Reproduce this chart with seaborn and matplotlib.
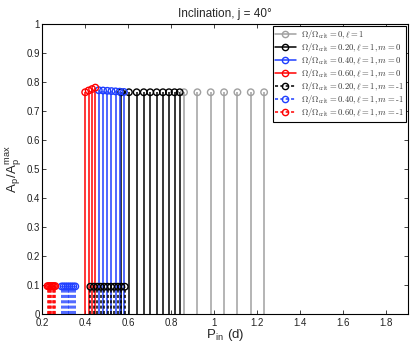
import matplotlib
matplotlib.use("Agg")
import matplotlib.pyplot as plt
import seaborn as sns
import numpy as np
import pandas as pd
from matplotlib.lines import Line2D
from matplotlib.legend_handler import HandlerLine2D

# periods (d) and normalised amplitudes
P_om0 = [0.860, 0.922, 0.984, 1.046, 1.108, 1.170, 1.232]
A_om0 = [0.765, 0.765, 0.765, 0.765, 0.765, 0.765, 0.765]

P_om20_m0 = [0.568, 0.604, 0.640, 0.673, 0.703, 0.733, 0.762, 0.790, 0.816, 0.840]
A_om20_m0 = [0.765, 0.765, 0.765, 0.765, 0.765, 0.765, 0.765, 0.765, 0.765, 0.765]

P_om40_m0 = [0.464, 0.484, 0.504, 0.523, 0.542, 0.561, 0.581]
A_om40_m0 = [0.772, 0.771, 0.770, 0.769, 0.768, 0.767, 0.766]

P_om60_m0 = [0.401, 0.417, 0.433, 0.448]
A_om60_m0 = [0.765, 0.771, 0.776, 0.781]

P_om20_m1 = [0.425, 0.441, 0.457, 0.473, 0.489, 0.505, 0.521, 0.537, 0.553, 0.569, 0.585]
A_om20_m1 = [0.094, 0.094, 0.094, 0.094, 0.094, 0.094, 0.094, 0.094, 0.094, 0.094, 0.094]

P_om40_m1 = [0.292, 0.301, 0.310, 0.319, 0.328, 0.337, 0.346, 0.355]
A_om40_m1 = [0.095, 0.095, 0.095, 0.095, 0.095, 0.095, 0.095, 0.095]

P_om60_m1 = [0.226, 0.232, 0.238, 0.244, 0.250, 0.256, 0.262]
A_om60_m1 = [0.096, 0.096, 0.096, 0.096, 0.096, 0.096, 0.096]

labels = [r"$\Omega/\Omega_{\rm crit} = 0, \ell = 1$",
          r"$\Omega/\Omega_{\rm crit} = 0.20, \ell = 1, m = 0$",
          r"$\Omega/\Omega_{\rm crit} = 0.40, \ell = 1, m = 0$",
          r"$\Omega/\Omega_{\rm crit} = 0.60, \ell = 1, m = 0$",
          r"$\Omega/\Omega_{\rm crit} = 0.20, \ell = 1, m = \text{-}1$",
          r"$\Omega/\Omega_{\rm crit} = 0.40, \ell = 1, m = \text{-}1$",
          r"$\Omega/\Omega_{\rm crit} = 0.60, \ell = 1, m = \text{-}1$"]

series = [
    (P_om0, A_om0, "#a0a0a0", "-"),
    (P_om20_m0, A_om20_m0, "black", "-"),
    (P_om40_m0, A_om40_m0, "#1f3fff", "-"),
    (P_om60_m0, A_om60_m0, "red", "-"),
    (P_om20_m1, A_om20_m1, "black", (0, (2, 1.5))),
    (P_om40_m1, A_om40_m1, "#1f3fff", (0, (2, 1.5))),
    (P_om60_m1, A_om60_m1, "red", (0, (2, 1.5))),
]

sns.set_style("ticks")
plt.rcParams['font.family'] = ['Liberation Sans', 'DejaVu Sans']
plt.rcParams['mathtext.fontset'] = 'cm'

fig = plt.figure(figsize=(4.15, 3.45), dpi=100)
ax = fig.add_axes([0.101, 0.090, 0.882, 0.840])

handles = []
for (P, A, col, ls), lab in zip(series, labels):
    df = pd.DataFrame({"P": P, "A": A})
    ax.vlines(df["P"], 0, df["A"], colors=col, linestyles=ls, lw=1.1, zorder=2)
    sns.scatterplot(data=df, x="P", y="A", ax=ax, marker="o", s=22,
                    facecolors="none", edgecolor=col, linewidth=1.0,
                    zorder=3, legend=False)
    handles.append(Line2D([0, 1], [0, 0], color=col, ls=ls, lw=1.1,
                          marker="o", mfc="none", mec=col, ms=4.5, mew=1.0))


class StemHandler(HandlerLine2D):
    def get_xdata(self, legend, xdescent, ydescent, width, height, fontsize):
        xdata = np.array([-xdescent, -xdescent + width])
        return xdata, np.array([-xdescent + width - 2])


ax.set_xlim(0.2, 1.9)
ax.set_ylim(0, 1)
ax.set_xticks(np.arange(0.2, 1.81, 0.2))
ax.set_xticklabels(["0.2", "0.4", "0.6", "0.8", "1", "1.2", "1.4", "1.6", "1.8"])
ax.set_yticks(np.arange(0, 1.01, 0.1))
ax.set_yticklabels(["0", "0.1", "0.2", "0.3", "0.4", "0.5", "0.6", "0.7", "0.8", "0.9", "1"])
ax.tick_params(direction="in", top=True, right=True, length=3, width=0.6,
               labelsize=7, pad=1.5, colors="#222222")
ax.tick_params(axis="x", pad=3)
for sp in ax.spines.values():
    sp.set_linewidth(0.8)
    sp.set_color("black")

ax.set_xlabel(r"P$_{\mathregular{in}}$ (d)", fontsize=9.5, labelpad=-0.5)
ax.set_ylabel(r"A$_{\mathregular{p}}$/A$_{\mathregular{p}}^{\mathregular{max}}$", fontsize=9.5, labelpad=2)
ax.set_title("Inclination, j = 40°", fontsize=8.5, pad=5)

leg = ax.legend(handles, labels, loc="upper right", fontsize=6.2,
                handler_map={Line2D: StemHandler()}, handlelength=2.4,
                handletextpad=0.6, borderpad=0.3, labelspacing=0.0,
                borderaxespad=0.2, fancybox=False, framealpha=1)
leg.get_frame().set_edgecolor("black")
leg.get_frame().set_linewidth(0.8)
for t in leg.get_texts():
    t.set_color("#333333")

fig.savefig("out.png", dpi=100)
